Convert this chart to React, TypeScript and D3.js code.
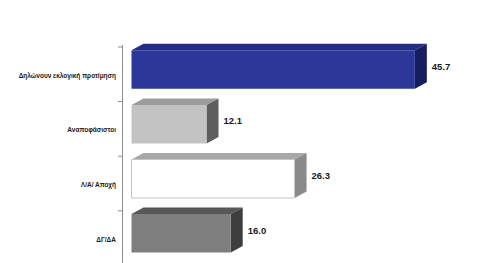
import React from "react";
import * as d3 from "d3";

const categories = ["Δηλώνουν εκλογική προτίμηση", "Αναποφάσιστοι", "Λ/Α/ Αποχή", "ΔΓ/ΔΑ"];
const values = [45.7, 12.1, 26.3, 16.0];
const valueLabels = ["45.7", "12.1", "26.3", "16.0"];
const frontColors = ["#2b389a", "#c3c3c3", "#ffffff", "#7e7e7e"];
const topColors = ["#222d86", "#9c9c9c", "#a8a8a8", "#575757"];
const sideColors = ["#161e60", "#5e5e5e", "#8a8a8a", "#3e3e3e"];
const strokeColors = ["none", "none", "#c4c4c4", "none"];

const W = 477;
const H = 263;
const axisX = 122.5;
const x0 = 131.5;
const dx = 12;
const dy = 6.5;

export default function App() {
  const y = d3.scaleBand<string>().domain(categories).range([47, 47 + 54.6 * 4]).paddingInner(0).paddingOuter(0);
  const x = d3.scaleLinear().domain([0, 50]).range([x0, x0 + 310]);
  const font = "'Liberation Sans', Arial, sans-serif";
  return (
    <div style={{ position: "absolute", left: 0, top: 0 }}>
      <svg width={W} height={H} style={{ display: "block", background: "#fff" }}>
        <line x1={axisX} x2={axisX} y1={45} y2={H} stroke="#8c8c8c" strokeWidth={1} />
        {categories.map((c, i) => {
          const b = y(c)!;
          return <line key={"t" + i} x1={axisX - 4.5} x2={axisX} y1={b} y2={b} stroke="#8c8c8c" strokeWidth={1} />;
        })}
        {categories.map((c, i) => {
          const b = y(c)!;
          const top = b + 3.3;
          const bot = top + 38.5;
          const xr = x(values[i]);
          const front = `M${x0},${top}L${xr},${top}L${xr},${bot}L${x0},${bot}Z`;
          const topFace = `M${x0},${top}L${x0 + dx},${top - dy}L${xr + dx},${top - dy}L${xr},${top}Z`;
          const side = `M${xr},${top}L${xr + dx},${top - dy}L${xr + dx},${bot - dy}L${xr},${bot}Z`;
          return (
            <g key={"b" + i}>
              <path d={topFace} fill={topColors[i]} />
              <path d={side} fill={sideColors[i]} />
              <path d={front} fill={frontColors[i]} stroke={strokeColors[i]} strokeWidth={1} />
              <text
                x={xr + dx + 5}
                y={(top - dy + bot) / 2}
                dominantBaseline="central"
                fontFamily={font}
                fontWeight="bold"
                fontSize={9.5}
                fill="#1a1a1a"
              >
                {valueLabels[i]}
              </text>
              <text
                x={116}
                y={b + y.bandwidth() / 2 + 1}
                dominantBaseline="central"
                textAnchor="end"
                fontFamily={font}
                fontWeight="bold"
                fontSize={6.5}
                fill="#1a1a1a"
              >
                {c}
              </text>
            </g>
          );
        })}
      </svg>
    </div>
  );
}
